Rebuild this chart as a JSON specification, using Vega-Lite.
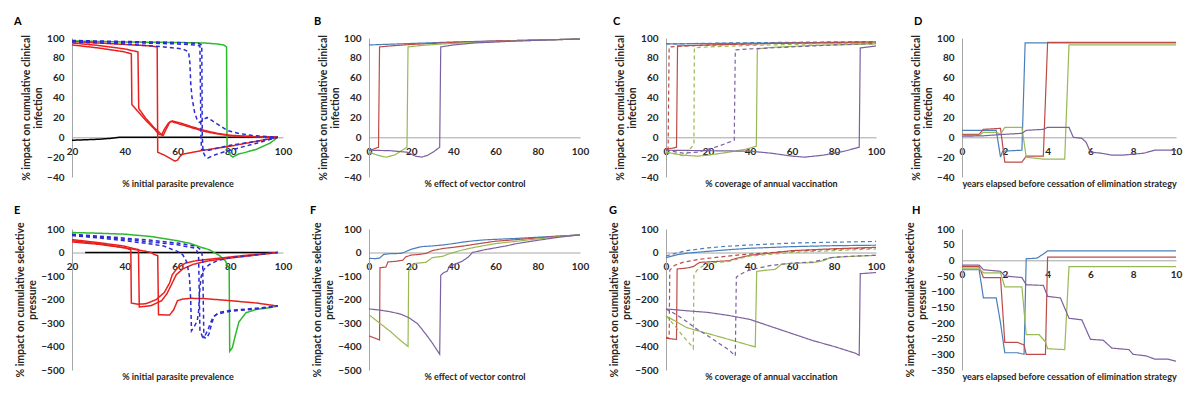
{
"$schema": "https://vega.github.io/schema/vega-lite/v6.json",
"background": "white",
"padding": {"left": 14, "top": 16, "right": 5, "bottom": 5},
"columns": 4,
"bounds": "flush",
"spacing": {"row": 52, "column": 86},
"resolve": {"scale": {"x": "independent", "y": "independent", "color": "independent", "strokeDash": "independent"}},
"config": {
  "view": {"stroke": null},
  "font": "Lato",
  "axis": {"grid": false, "ticks": false, "labelFont": "Lato", "labelFontWeight": "bold", "labelFontSize": 10, "labelColor": "#262626", "titleFont": "Lato", "titleFontWeight": "bold", "titleColor": "#262626", "domainColor": "#A6A6A6", "labelFlush": false, "labelOverlap": false},
  "axisY": {"labelPadding": 8, "titlePadding": 3, "titleLineHeight": 12, "titleFontSize": 10.5},
  "axisX": {"labelPadding": 9, "titleBaseline": "middle", "titleFontSize": 9},
  "title": {"anchor": "start", "frame": "group", "font": "Lato", "fontSize": 11, "fontWeight": "bold", "color": "#000", "offset": 6},
  "line": {"strokeWidth": 1.2}
},
"datasets": {
"A": [
{"s":"K","x":20,"y":-3},{"s":"K","x":25,"y":-2.5},{"s":"K","x":30,"y":-2},{"s":"K","x":35,"y":-1},{"s":"K","x":38,"y":0},{"s":"K","x":98,"y":0},
{"s":"G","x":20,"y":97},{"s":"G","x":40,"y":96},{"s":"G","x":60,"y":95.5},{"s":"G","x":70,"y":95},{"s":"G","x":75,"y":94},{"s":"G","x":77.5,"y":93},{"s":"G","x":78.6,"y":91},{"s":"G","x":78.8,"y":-12},{"s":"G","x":80,"y":-18},{"s":"G","x":81,"y":-20},{"s":"G","x":83,"y":-17},{"s":"G","x":86,"y":-15},{"s":"G","x":90,"y":-12},{"s":"G","x":95,"y":-6},{"s":"G","x":98,"y":0},
{"s":"R1","x":20,"y":93},{"s":"R1","x":30,"y":90},{"s":"R1","x":40,"y":86},{"s":"R1","x":42.5,"y":84},{"s":"R1","x":42.7,"y":33},{"s":"R1","x":45,"y":26},{"s":"R1","x":48,"y":17},{"s":"R1","x":51,"y":9},{"s":"R1","x":53,"y":3},{"s":"R1","x":54,"y":2.5},{"s":"R1","x":55,"y":8},{"s":"R1","x":56.5,"y":14},{"s":"R1","x":57.5,"y":16},{"s":"R1","x":60,"y":14},{"s":"R1","x":65,"y":10},{"s":"R1","x":70,"y":6},{"s":"R1","x":75,"y":3.5},{"s":"R1","x":80,"y":1.5},{"s":"R1","x":90,"y":0.5},{"s":"R1","x":98,"y":0},
{"s":"R2","x":20,"y":95},{"s":"R2","x":30,"y":92.5},{"s":"R2","x":40,"y":89},{"s":"R2","x":45,"y":86},{"s":"R2","x":45.3,"y":29},{"s":"R2","x":48,"y":19},{"s":"R2","x":51,"y":10},{"s":"R2","x":54.5,"y":1.5},{"s":"R2","x":55.5,"y":7},{"s":"R2","x":57,"y":15},{"s":"R2","x":58,"y":16.5},{"s":"R2","x":61,"y":14.5},{"s":"R2","x":65,"y":11},{"s":"R2","x":70,"y":7},{"s":"R2","x":75,"y":4},{"s":"R2","x":80,"y":2},{"s":"R2","x":90,"y":0.5},{"s":"R2","x":98,"y":0},
{"s":"R3","x":20,"y":96.5},{"s":"R3","x":30,"y":95},{"s":"R3","x":40,"y":93.5},{"s":"R3","x":50,"y":92},{"s":"R3","x":52.3,"y":91},{"s":"R3","x":52.5,"y":-15},{"s":"R3","x":55,"y":-18},{"s":"R3","x":57,"y":-21},{"s":"R3","x":59,"y":-24},{"s":"R3","x":60,"y":-23},{"s":"R3","x":61,"y":-19},{"s":"R3","x":62,"y":-17},{"s":"R3","x":65,"y":-15.5},{"s":"R3","x":70,"y":-13},{"s":"R3","x":80,"y":-9},{"s":"R3","x":90,"y":-4},{"s":"R3","x":98,"y":0},
{"s":"D1","x":20,"y":96},{"s":"D1","x":40,"y":94},{"s":"D1","x":55,"y":91},{"s":"D1","x":62,"y":89},{"s":"D1","x":64.2,"y":86},{"s":"D1","x":64.7,"y":75},{"s":"D1","x":65,"y":55},{"s":"D1","x":65.5,"y":40},{"s":"D1","x":66.5,"y":25},{"s":"D1","x":67.5,"y":17},{"s":"D1","x":68.3,"y":15},{"s":"D1","x":69,"y":16},{"s":"D1","x":70,"y":18},{"s":"D1","x":71.2,"y":20},{"s":"D1","x":73,"y":17},{"s":"D1","x":75,"y":13.5},{"s":"D1","x":78.8,"y":7},{"s":"D1","x":83,"y":4},{"s":"D1","x":88,"y":2},{"s":"D1","x":98,"y":0},
{"s":"D2","x":20,"y":97},{"s":"D2","x":40,"y":95.5},{"s":"D2","x":60,"y":94},{"s":"D2","x":67,"y":93},{"s":"D2","x":68.5,"y":92},{"s":"D2","x":68.7,"y":50},{"s":"D2","x":68.9,"y":0},{"s":"D2","x":69.1,"y":-12},{"s":"D2","x":70,"y":-13},{"s":"D2","x":72,"y":-13},{"s":"D2","x":75,"y":-11},{"s":"D2","x":80,"y":-8},{"s":"D2","x":90,"y":-4},{"s":"D2","x":98,"y":0},
{"s":"D3","x":20,"y":97.5},{"s":"D3","x":40,"y":96.5},{"s":"D3","x":60,"y":95.5},{"s":"D3","x":68,"y":94.5},{"s":"D3","x":69.2,"y":93},{"s":"D3","x":69.4,"y":0},{"s":"D3","x":69.7,"y":-15},{"s":"D3","x":70.5,"y":-19},{"s":"D3","x":71.5,"y":-21},{"s":"D3","x":73,"y":-19},{"s":"D3","x":76,"y":-16},{"s":"D3","x":80,"y":-13},{"s":"D3","x":90,"y":-6},{"s":"D3","x":98,"y":0}
],
"B": [
{"s":"b","x":0,"y":93},{"s":"b","x":20,"y":94.5},{"s":"b","x":40,"y":96},{"s":"b","x":60,"y":97},{"s":"b","x":80,"y":98},{"s":"b","x":100,"y":99},
{"s":"r","x":0,"y":-13},{"s":"r","x":2,"y":-12},{"s":"r","x":4.5,"y":-10},{"s":"r","x":5,"y":91},{"s":"r","x":10,"y":92},{"s":"r","x":20,"y":93.5},{"s":"r","x":40,"y":95.5},{"s":"r","x":60,"y":97},{"s":"r","x":80,"y":98},{"s":"r","x":100,"y":99},
{"s":"g","x":0,"y":-15},{"s":"g","x":4,"y":-18},{"s":"g","x":8,"y":-20},{"s":"g","x":12,"y":-18},{"s":"g","x":15,"y":-14},{"s":"g","x":18,"y":-10},{"s":"g","x":18.5,"y":91},{"s":"g","x":25,"y":92.5},{"s":"g","x":35,"y":94},{"s":"g","x":50,"y":95.5},{"s":"g","x":70,"y":97},{"s":"g","x":100,"y":99},
{"s":"p","x":0,"y":-13},{"s":"p","x":10,"y":-13.5},{"s":"p","x":18,"y":-15},{"s":"p","x":22,"y":-19},{"s":"p","x":25,"y":-20},{"s":"p","x":28,"y":-18},{"s":"p","x":31,"y":-14},{"s":"p","x":33.5,"y":-10},{"s":"p","x":34,"y":91},{"s":"p","x":40,"y":93},{"s":"p","x":50,"y":95},{"s":"p","x":70,"y":97},{"s":"p","x":100,"y":99}
],
"C": [
{"s":"b","x":0,"y":94},{"s":"b","x":50,"y":95},{"s":"b","x":100,"y":96},
{"s":"bd","x":0,"y":94},{"s":"bd","x":30,"y":95},{"s":"bd","x":100,"y":96.5},
{"s":"rd","x":0,"y":-12},{"s":"rd","x":1,"y":-11},{"s":"rd","x":1.5,"y":91},{"s":"rd","x":10,"y":92},{"s":"rd","x":30,"y":93.5},{"s":"rd","x":60,"y":95},{"s":"rd","x":100,"y":96},
{"s":"r","x":0,"y":-12},{"s":"r","x":3,"y":-11},{"s":"r","x":5,"y":-10},{"s":"r","x":5.5,"y":92},{"s":"r","x":20,"y":93},{"s":"r","x":50,"y":94.5},{"s":"r","x":100,"y":95.5},
{"s":"gd","x":0,"y":-15},{"s":"gd","x":5,"y":-17},{"s":"gd","x":9,"y":-19},{"s":"gd","x":11,"y":-13},{"s":"gd","x":13.3,"y":-7},{"s":"gd","x":13.5,"y":90},{"s":"gd","x":20,"y":91},{"s":"gd","x":40,"y":92.5},{"s":"gd","x":70,"y":94},{"s":"gd","x":100,"y":95},
{"s":"g","x":0,"y":-15},{"s":"g","x":8,"y":-18},{"s":"g","x":15,"y":-19},{"s":"g","x":20,"y":-18},{"s":"g","x":30,"y":-15},{"s":"g","x":38,"y":-12},{"s":"g","x":43,"y":-9},{"s":"g","x":43.5,"y":89},{"s":"g","x":50,"y":90.5},{"s":"g","x":70,"y":92.5},{"s":"g","x":100,"y":94},
{"s":"pd","x":0,"y":-13},{"s":"pd","x":8,"y":-16},{"s":"pd","x":15,"y":-15},{"s":"pd","x":25,"y":-9},{"s":"pd","x":32.5,"y":-3},{"s":"pd","x":33,"y":88},{"s":"pd","x":40,"y":89},{"s":"pd","x":60,"y":91},{"s":"pd","x":80,"y":93},{"s":"pd","x":100,"y":94.5},
{"s":"p","x":0,"y":-13},{"s":"p","x":20,"y":-13.5},{"s":"p","x":40,"y":-14},{"s":"p","x":50,"y":-16},{"s":"p","x":60,"y":-19},{"s":"p","x":66,"y":-20},{"s":"p","x":75,"y":-18},{"s":"p","x":85,"y":-14},{"s":"p","x":92,"y":-10},{"s":"p","x":92.5,"y":90},{"s":"p","x":100,"y":92}
],
"D": [
{"s":"b","x":0,"y":7},{"s":"b","x":1.6,"y":7},{"s":"b","x":1.8,"y":-20},{"s":"b","x":1.9,"y":-14},{"s":"b","x":2.8,"y":-13},{"s":"b","x":2.95,"y":95},{"s":"b","x":10,"y":95},
{"s":"r","x":0,"y":3},{"s":"r","x":0.8,"y":3},{"s":"r","x":1,"y":8},{"s":"r","x":1.8,"y":9},{"s":"r","x":2,"y":-25},{"s":"r","x":2.8,"y":-25},{"s":"r","x":3,"y":-19},{"s":"r","x":3.8,"y":-19},{"s":"r","x":4,"y":95.5},{"s":"r","x":10,"y":95.5},
{"s":"g","x":0,"y":2},{"s":"g","x":0.8,"y":2},{"s":"g","x":1,"y":5},{"s":"g","x":1.6,"y":5},{"s":"g","x":1.8,"y":3},{"s":"g","x":2,"y":10},{"s":"g","x":2.8,"y":10},{"s":"g","x":3,"y":-20},{"s":"g","x":3.8,"y":-22},{"s":"g","x":4.8,"y":-22},{"s":"g","x":5,"y":93},{"s":"g","x":10,"y":93},
{"s":"p","x":0,"y":1},{"s":"p","x":1,"y":1.5},{"s":"p","x":2,"y":3},{"s":"p","x":2.8,"y":4},{"s":"p","x":3,"y":7},{"s":"p","x":3.8,"y":8},{"s":"p","x":4,"y":10},{"s":"p","x":5,"y":10},{"s":"p","x":5.2,"y":0},{"s":"p","x":5.6,"y":-1},{"s":"p","x":5.8,"y":-5},{"s":"p","x":6,"y":-15},{"s":"p","x":6.5,"y":-16},{"s":"p","x":7,"y":-18},{"s":"p","x":7.5,"y":-18},{"s":"p","x":8,"y":-17},{"s":"p","x":8.5,"y":-16},{"s":"p","x":9,"y":-13},{"s":"p","x":10,"y":-13}
],
"E": [
{"s":"K","x":25,"y":0},{"s":"K","x":98,"y":0},
{"s":"G","x":20,"y":85},{"s":"G","x":30,"y":82},{"s":"G","x":40,"y":78},{"s":"G","x":50,"y":68},{"s":"G","x":60,"y":50},{"s":"G","x":65,"y":38},{"s":"G","x":69,"y":22},{"s":"G","x":72,"y":12},{"s":"G","x":75,"y":-7},{"s":"G","x":76,"y":-14},{"s":"G","x":78.2,"y":-36},{"s":"G","x":79,"y":-57},{"s":"G","x":79.6,"y":-75},{"s":"G","x":79.8,"y":-420},{"s":"G","x":80.8,"y":-405},{"s":"G","x":82,"y":-350},{"s":"G","x":83.3,"y":-295},{"s":"G","x":86,"y":-256},{"s":"G","x":90,"y":-242},{"s":"G","x":95,"y":-235},{"s":"G","x":98,"y":-228},
{"s":"R1","x":20,"y":50},{"s":"R1","x":30,"y":38},{"s":"R1","x":40,"y":20},{"s":"R1","x":42.3,"y":12},{"s":"R1","x":42.5,"y":-215},{"s":"R1","x":45,"y":-220},{"s":"R1","x":48,"y":-218},{"s":"R1","x":52,"y":-200},{"s":"R1","x":55,"y":-170},{"s":"R1","x":57,"y":-130},{"s":"R1","x":58,"y":-95},{"s":"R1","x":60,"y":-65},{"s":"R1","x":63,"y":-45},{"s":"R1","x":67,"y":-35},{"s":"R1","x":75,"y":-25},{"s":"R1","x":85,"y":-13},{"s":"R1","x":98,"y":0},
{"s":"R2","x":20,"y":55},{"s":"R2","x":30,"y":42},{"s":"R2","x":40,"y":27},{"s":"R2","x":45.2,"y":12},{"s":"R2","x":45.5,"y":-232},{"s":"R2","x":50,"y":-226},{"s":"R2","x":54,"y":-205},{"s":"R2","x":56,"y":-175},{"s":"R2","x":58,"y":-130},{"s":"R2","x":59.5,"y":-95},{"s":"R2","x":62,"y":-70},{"s":"R2","x":66,"y":-50},{"s":"R2","x":72,"y":-35},{"s":"R2","x":85,"y":-17},{"s":"R2","x":98,"y":0},
{"s":"R3","x":20,"y":45},{"s":"R3","x":30,"y":35},{"s":"R3","x":40,"y":20},{"s":"R3","x":48,"y":5},{"s":"R3","x":50,"y":0},{"s":"R3","x":51,"y":-8},{"s":"R3","x":52.5,"y":-13},{"s":"R3","x":52.8,"y":-265},{"s":"R3","x":57,"y":-266},{"s":"R3","x":58.5,"y":-245},{"s":"R3","x":60,"y":-205},{"s":"R3","x":62,"y":-198},{"s":"R3","x":65,"y":-195},{"s":"R3","x":70,"y":-196},{"s":"R3","x":80,"y":-205},{"s":"R3","x":90,"y":-215},{"s":"R3","x":98,"y":-228},
{"s":"D1","x":20,"y":72},{"s":"D1","x":30,"y":62},{"s":"D1","x":40,"y":50},{"s":"D1","x":50,"y":36},{"s":"D1","x":55,"y":27},{"s":"D1","x":58,"y":13},{"s":"D1","x":60,"y":5},{"s":"D1","x":62,"y":-10},{"s":"D1","x":63.5,"y":-40},{"s":"D1","x":64.5,"y":-100},{"s":"D1","x":65,"y":-200},{"s":"D1","x":65.3,"y":-333},{"s":"D1","x":66.5,"y":-312},{"s":"D1","x":67.5,"y":-290},{"s":"D1","x":68,"y":-250},{"s":"D1","x":68.5,"y":-150},{"s":"D1","x":69,"y":-100},{"s":"D1","x":70,"y":-72},{"s":"D1","x":72,"y":-52},{"s":"D1","x":75,"y":-35},{"s":"D1","x":80,"y":-22},{"s":"D1","x":90,"y":-10},{"s":"D1","x":98,"y":0},
{"s":"D2","x":20,"y":75},{"s":"D2","x":30,"y":66},{"s":"D2","x":40,"y":56},{"s":"D2","x":50,"y":45},{"s":"D2","x":60,"y":33},{"s":"D2","x":66,"y":20},{"s":"D2","x":67.5,"y":5},{"s":"D2","x":68,"y":-20},{"s":"D2","x":68.5,"y":-330},{"s":"D2","x":69.5,"y":-360},{"s":"D2","x":70.5,"y":-352},{"s":"D2","x":71.5,"y":-330},{"s":"D2","x":72.5,"y":-300},{"s":"D2","x":73.5,"y":-275},{"s":"D2","x":75,"y":-262},{"s":"D2","x":80,"y":-250},{"s":"D2","x":90,"y":-240},{"s":"D2","x":98,"y":-228},
{"s":"D3","x":20,"y":78},{"s":"D3","x":30,"y":70},{"s":"D3","x":40,"y":61},{"s":"D3","x":50,"y":52},{"s":"D3","x":60,"y":40},{"s":"D3","x":67,"y":27},{"s":"D3","x":69,"y":10},{"s":"D3","x":69.5,"y":-20},{"s":"D3","x":70,"y":-362},{"s":"D3","x":71,"y":-365},{"s":"D3","x":72,"y":-345},{"s":"D3","x":73,"y":-300},{"s":"D3","x":74,"y":-270},{"s":"D3","x":76,"y":-255},{"s":"D3","x":80,"y":-246},{"s":"D3","x":90,"y":-237},{"s":"D3","x":98,"y":-228}
],
"F": [
{"s":"b","x":0,"y":-25},{"s":"b","x":3,"y":-26},{"s":"b","x":5,"y":-24},{"s":"b","x":7,"y":-8},{"s":"b","x":10,"y":-5},{"s":"b","x":15,"y":-4},{"s":"b","x":17,"y":2},{"s":"b","x":20,"y":14},{"s":"b","x":25,"y":25},{"s":"b","x":30,"y":28},{"s":"b","x":35,"y":32},{"s":"b","x":40,"y":38},{"s":"b","x":45,"y":45},{"s":"b","x":50,"y":50},{"s":"b","x":55,"y":54},{"s":"b","x":60,"y":56},{"s":"b","x":70,"y":60},{"s":"b","x":80,"y":65},{"s":"b","x":90,"y":70},{"s":"b","x":100,"y":75},
{"s":"r","x":0,"y":-355},{"s":"r","x":5,"y":-372},{"s":"r","x":5.2,"y":-65},{"s":"r","x":8,"y":-62},{"s":"r","x":9,"y":-40},{"s":"r","x":13,"y":-37},{"s":"r","x":16,"y":-33},{"s":"r","x":17.5,"y":-18},{"s":"r","x":20,"y":-11},{"s":"r","x":24,"y":-8},{"s":"r","x":27,"y":-4},{"s":"r","x":30,"y":8},{"s":"r","x":35,"y":17},{"s":"r","x":40,"y":22},{"s":"r","x":45,"y":28},{"s":"r","x":50,"y":35},{"s":"r","x":60,"y":48},{"s":"r","x":70,"y":55},{"s":"r","x":80,"y":62},{"s":"r","x":90,"y":69},{"s":"r","x":100,"y":75},
{"s":"g","x":0,"y":-265},{"s":"g","x":5,"y":-300},{"s":"g","x":10,"y":-335},{"s":"g","x":15,"y":-375},{"s":"g","x":18.5,"y":-400},{"s":"g","x":18.8,"y":-80},{"s":"g","x":20,"y":-62},{"s":"g","x":22,"y":-46},{"s":"g","x":27,"y":-42},{"s":"g","x":30,"y":-22},{"s":"g","x":35,"y":-16},{"s":"g","x":38,"y":-5},{"s":"g","x":42,"y":5},{"s":"g","x":45,"y":12},{"s":"g","x":50,"y":22},{"s":"g","x":55,"y":30},{"s":"g","x":60,"y":38},{"s":"g","x":70,"y":48},{"s":"g","x":80,"y":58},{"s":"g","x":90,"y":67},{"s":"g","x":100,"y":75},
{"s":"p","x":0,"y":-240},{"s":"p","x":5,"y":-245},{"s":"p","x":10,"y":-252},{"s":"p","x":15,"y":-262},{"s":"p","x":19,"y":-278},{"s":"p","x":23,"y":-303},{"s":"p","x":27,"y":-348},{"s":"p","x":30,"y":-385},{"s":"p","x":33.5,"y":-433},{"s":"p","x":34,"y":-97},{"s":"p","x":35.5,"y":-85},{"s":"p","x":37,"y":-80},{"s":"p","x":38,"y":-62},{"s":"p","x":40,"y":-52},{"s":"p","x":44,"y":-38},{"s":"p","x":47,"y":-20},{"s":"p","x":49,"y":0},{"s":"p","x":55,"y":12},{"s":"p","x":60,"y":20},{"s":"p","x":65,"y":28},{"s":"p","x":70,"y":38},{"s":"p","x":80,"y":52},{"s":"p","x":90,"y":65},{"s":"p","x":100,"y":75}
],
"G": [
{"s":"b","x":0,"y":-22},{"s":"b","x":5,"y":-10},{"s":"b","x":10,"y":-3},{"s":"b","x":20,"y":5},{"s":"b","x":30,"y":12},{"s":"b","x":40,"y":18},{"s":"b","x":60,"y":25},{"s":"b","x":80,"y":29},{"s":"b","x":100,"y":31},
{"s":"bd","x":0,"y":-15},{"s":"bd","x":5,"y":-2},{"s":"bd","x":10,"y":8},{"s":"bd","x":20,"y":20},{"s":"bd","x":30,"y":27},{"s":"bd","x":40,"y":32},{"s":"bd","x":60,"y":40},{"s":"bd","x":80,"y":44},{"s":"bd","x":100,"y":47},
{"s":"rd","x":0,"y":-360},{"s":"rd","x":1.5,"y":-365},{"s":"rd","x":1.8,"y":-75},{"s":"rd","x":4,"y":-55},{"s":"rd","x":8,"y":-42},{"s":"rd","x":15,"y":-30},{"s":"rd","x":25,"y":-20},{"s":"rd","x":35,"y":-10},{"s":"rd","x":50,"y":0},{"s":"rd","x":70,"y":10},{"s":"rd","x":100,"y":20},
{"s":"r","x":0,"y":-365},{"s":"r","x":5,"y":-370},{"s":"r","x":5.3,"y":-70},{"s":"r","x":10,"y":-66},{"s":"r","x":13,"y":-60},{"s":"r","x":16,"y":-42},{"s":"r","x":30,"y":-35},{"s":"r","x":33,"y":-26},{"s":"r","x":40,"y":-12},{"s":"r","x":50,"y":-2},{"s":"r","x":60,"y":8},{"s":"r","x":80,"y":16},{"s":"r","x":100,"y":22},
{"s":"gd","x":0,"y":-270},{"s":"gd","x":4,"y":-310},{"s":"gd","x":8,"y":-355},{"s":"gd","x":12.5,"y":-400},{"s":"gd","x":13,"y":-408},{"s":"gd","x":13.3,"y":-95},{"s":"gd","x":15,"y":-72},{"s":"gd","x":18,"y":-55},{"s":"gd","x":20,"y":-45},{"s":"gd","x":30,"y":-38},{"s":"gd","x":34,"y":-28},{"s":"gd","x":40,"y":-15},{"s":"gd","x":60,"y":0},{"s":"gd","x":80,"y":8},{"s":"gd","x":100,"y":15},
{"s":"g","x":0,"y":-270},{"s":"g","x":10,"y":-320},{"s":"g","x":20,"y":-345},{"s":"g","x":30,"y":-370},{"s":"g","x":42.5,"y":-402},{"s":"g","x":43.2,"y":-80},{"s":"g","x":48,"y":-75},{"s":"g","x":52,"y":-72},{"s":"g","x":55,"y":-50},{"s":"g","x":60,"y":-46},{"s":"g","x":70,"y":-43},{"s":"g","x":75,"y":-35},{"s":"g","x":78,"y":-22},{"s":"g","x":85,"y":-18},{"s":"g","x":100,"y":-12},
{"s":"pd","x":0,"y":-240},{"s":"pd","x":5,"y":-265},{"s":"pd","x":10,"y":-295},{"s":"pd","x":15,"y":-328},{"s":"pd","x":20,"y":-355},{"s":"pd","x":25,"y":-385},{"s":"pd","x":30,"y":-415},{"s":"pd","x":33,"y":-440},{"s":"pd","x":33.5,"y":-105},{"s":"pd","x":36,"y":-90},{"s":"pd","x":38,"y":-80},{"s":"pd","x":42,"y":-70},{"s":"pd","x":50,"y":-55},{"s":"pd","x":60,"y":-45},{"s":"pd","x":70,"y":-40},{"s":"pd","x":75,"y":-30},{"s":"pd","x":80,"y":-20},{"s":"pd","x":90,"y":-15},{"s":"pd","x":100,"y":-12},
{"s":"p","x":0,"y":-240},{"s":"p","x":10,"y":-248},{"s":"p","x":20,"y":-255},{"s":"p","x":30,"y":-268},{"s":"p","x":40,"y":-285},{"s":"p","x":50,"y":-315},{"s":"p","x":60,"y":-345},{"s":"p","x":70,"y":-375},{"s":"p","x":80,"y":-400},{"s":"p","x":90,"y":-428},{"s":"p","x":92,"y":-437},{"s":"p","x":92.5,"y":-90},{"s":"p","x":96,"y":-88},{"s":"p","x":100,"y":-85}
],
"H": [
{"s":"b","x":0,"y":-30},{"s":"b","x":0.8,"y":-30},{"s":"b","x":1,"y":-120},{"s":"b","x":1.6,"y":-120},{"s":"b","x":1.8,"y":-200},{"s":"b","x":2,"y":-295},{"s":"b","x":2.6,"y":-295},{"s":"b","x":2.9,"y":-300},{"s":"b","x":3,"y":5},{"s":"b","x":3.5,"y":7},{"s":"b","x":3.8,"y":20},{"s":"b","x":4,"y":30},{"s":"b","x":10,"y":30},
{"s":"r","x":0,"y":-20},{"s":"r","x":0.8,"y":-20},{"s":"r","x":1,"y":-55},{"s":"r","x":1.8,"y":-55},{"s":"r","x":2,"y":-262},{"s":"r","x":2.6,"y":-262},{"s":"r","x":2.9,"y":-270},{"s":"r","x":3,"y":-300},{"s":"r","x":3.9,"y":-300},{"s":"r","x":4,"y":10},{"s":"r","x":10,"y":10},
{"s":"g","x":0,"y":-25},{"s":"g","x":0.8,"y":-25},{"s":"g","x":1,"y":-40},{"s":"g","x":1.8,"y":-40},{"s":"g","x":2,"y":-85},{"s":"g","x":2.8,"y":-85},{"s":"g","x":3,"y":-237},{"s":"g","x":3.6,"y":-237},{"s":"g","x":3.9,"y":-260},{"s":"g","x":4,"y":-282},{"s":"g","x":4.8,"y":-285},{"s":"g","x":5,"y":-20},{"s":"g","x":10,"y":-20},
{"s":"p","x":0,"y":-15},{"s":"p","x":0.8,"y":-15},{"s":"p","x":1,"y":-30},{"s":"p","x":1.8,"y":-35},{"s":"p","x":2,"y":-50},{"s":"p","x":2.8,"y":-55},{"s":"p","x":3,"y":-78},{"s":"p","x":3.8,"y":-80},{"s":"p","x":4,"y":-115},{"s":"p","x":4.6,"y":-120},{"s":"p","x":5,"y":-185},{"s":"p","x":5.6,"y":-190},{"s":"p","x":6,"y":-252},{"s":"p","x":6.6,"y":-255},{"s":"p","x":7,"y":-280},{"s":"p","x":7.8,"y":-285},{"s":"p","x":8,"y":-300},{"s":"p","x":8.6,"y":-305},{"s":"p","x":9,"y":-315},{"s":"p","x":9.6,"y":-315},{"s":"p","x":10,"y":-322}
]
},
"concat": [
{"title": {"text": "A", "dx": -58}, "data": {"name": "A"}, "width": 211, "height": 139,
 "mark": {"type": "line", "strokeWidth": 1.5},
 "encoding": {
  "x": {"field": "x", "type": "quantitative", "scale": {"domain": [20, 100], "nice": false, "zero": false}, "axis": {"title": "% initial parasite prevalence", "values": [20,40,60,80,100], "offset": -39.7, "titleY": 46}},
  "y": {"field": "y", "type": "quantitative", "scale": {"domain": [-40, 100], "nice": false}, "axis": {"title": ["% impact on cumulative clinical", "infection"], "values": [-40,-20,0,20,40,60,80,100]}},
  "color": {"field": "s", "type": "nominal", "legend": null, "scale": {"domain": ["K","G","R1","R2","R3","D1","D2","D3"], "range": ["#000000","#2DB82D","#E8211E","#E8211E","#E8211E","#2B2BD0","#2B2BD0","#2B2BD0"]}},
  "strokeDash": {"field": "s", "type": "nominal", "legend": null, "scale": {"domain": ["K","G","R1","R2","R3","D1","D2","D3"], "range": [[1,0],[1,0],[1,0],[1,0],[1,0],[4,3],[4,3],[4,3]]}},
  "order": {"value": null}
 }},
{"title": {"text": "B", "dx": -55}, "data": {"name": "B"}, "width": 211, "height": 139,
 "mark": {"type": "line"},
 "encoding": {
  "x": {"field": "x", "type": "quantitative", "scale": {"domain": [0, 100], "nice": false}, "axis": {"title": "% effect of vector control", "values": [0,20,40,60,80,100], "offset": -39.7, "titleY": 46}},
  "y": {"field": "y", "type": "quantitative", "scale": {"domain": [-40, 100], "nice": false}, "axis": {"title": ["% impact on cumulative clinical", "infection"], "values": [-40,-20,0,20,40,60,80,100]}},
  "color": {"field": "s", "type": "nominal", "legend": null, "scale": {"domain": ["b","r","g","p","bd","rd","gd","pd"], "range": ["#4A7EBB","#BE4B48","#98B954","#7D60A0","#4A7EBB","#BE4B48","#98B954","#7D60A0"]}},
  "strokeDash": {"field": "s", "type": "nominal", "legend": null, "scale": {"domain": ["b","r","g","p","bd","rd","gd","pd"], "range": [[1,0],[1,0],[1,0],[1,0],[4,3],[4,3],[4,3],[4,3]]}},
  "order": {"value": null}
 }},
{"title": {"text": "C", "dx": -53}, "data": {"name": "C"}, "width": 210, "height": 139,
 "mark": {"type": "line"},
 "encoding": {
  "x": {"field": "x", "type": "quantitative", "scale": {"domain": [0, 100], "nice": false}, "axis": {"title": "% coverage of annual vaccination", "values": [0,20,40,60,80,100], "offset": -39.7, "titleY": 46}},
  "y": {"field": "y", "type": "quantitative", "scale": {"domain": [-40, 100], "nice": false}, "axis": {"title": ["% impact on cumulative clinical", "infection"], "values": [-40,-20,0,20,40,60,80,100]}},
  "color": {"field": "s", "type": "nominal", "legend": null, "scale": {"domain": ["b","r","g","p","bd","rd","gd","pd"], "range": ["#4A7EBB","#BE4B48","#98B954","#7D60A0","#4A7EBB","#BE4B48","#98B954","#7D60A0"]}},
  "strokeDash": {"field": "s", "type": "nominal", "legend": null, "scale": {"domain": ["b","r","g","p","bd","rd","gd","pd"], "range": [[1,0],[1,0],[1,0],[1,0],[4,3],[4,3],[4,3],[4,3]]}},
  "order": {"value": null}
 }},
{"title": {"text": "D", "dx": -48}, "data": {"name": "D"}, "width": 214, "height": 139,
 "mark": {"type": "line"},
 "encoding": {
  "x": {"field": "x", "type": "quantitative", "scale": {"domain": [0, 10], "nice": false}, "axis": {"title": "years elapsed before cessation of elimination strategy", "values": [0,2,4,6,8,10], "offset": -39.7, "titleY": 46}},
  "y": {"field": "y", "type": "quantitative", "scale": {"domain": [-40, 100], "nice": false}, "axis": {"title": ["% impact on cumulative clinical", "infection"], "values": [-40,-20,0,20,40,60,80,100]}},
  "color": {"field": "s", "type": "nominal", "legend": null, "scale": {"domain": ["b","r","g","p","bd","rd","gd","pd"], "range": ["#4A7EBB","#BE4B48","#98B954","#7D60A0","#4A7EBB","#BE4B48","#98B954","#7D60A0"]}},
  "strokeDash": {"field": "s", "type": "nominal", "legend": null, "scale": {"domain": ["b","r","g","p","bd","rd","gd","pd"], "range": [[1,0],[1,0],[1,0],[1,0],[4,3],[4,3],[4,3],[4,3]]}},
  "order": {"value": null}
 }},
{"title": {"text": "E", "dx": -58}, "data": {"name": "E"}, "width": 211, "height": 141,
 "mark": {"type": "line", "strokeWidth": 1.5},
 "encoding": {
  "x": {"field": "x", "type": "quantitative", "scale": {"domain": [20, 100], "nice": false, "zero": false}, "axis": {"title": "% initial parasite prevalence", "values": [20,40,60,80,100], "offset": -117.5, "titleY": 124}},
  "y": {"field": "y", "type": "quantitative", "scale": {"domain": [-500, 100], "nice": false}, "axis": {"title": ["% impact on cumulative selective", "pressure"], "values": [-500,-400,-300,-200,-100,0,100]}},
  "color": {"field": "s", "type": "nominal", "legend": null, "scale": {"domain": ["K","G","R1","R2","R3","D1","D2","D3"], "range": ["#000000","#2DB82D","#E8211E","#E8211E","#E8211E","#2B2BD0","#2B2BD0","#2B2BD0"]}},
  "strokeDash": {"field": "s", "type": "nominal", "legend": null, "scale": {"domain": ["K","G","R1","R2","R3","D1","D2","D3"], "range": [[1,0],[1,0],[1,0],[1,0],[1,0],[4,3],[4,3],[4,3]]}},
  "order": {"value": null}
 }},
{"title": {"text": "F", "dx": -59}, "data": {"name": "F"}, "width": 211, "height": 141,
 "mark": {"type": "line"},
 "encoding": {
  "x": {"field": "x", "type": "quantitative", "scale": {"domain": [0, 100], "nice": false}, "axis": {"title": "% effect of vector control", "values": [0,20,40,60,80,100], "offset": -117.5, "titleY": 124}},
  "y": {"field": "y", "type": "quantitative", "scale": {"domain": [-500, 100], "nice": false}, "axis": {"title": ["% impact on cumulative selective", "pressure"], "values": [-500,-400,-300,-200,-100,0,100]}},
  "color": {"field": "s", "type": "nominal", "legend": null, "scale": {"domain": ["b","r","g","p","bd","rd","gd","pd"], "range": ["#4A7EBB","#BE4B48","#98B954","#7D60A0","#4A7EBB","#BE4B48","#98B954","#7D60A0"]}},
  "strokeDash": {"field": "s", "type": "nominal", "legend": null, "scale": {"domain": ["b","r","g","p","bd","rd","gd","pd"], "range": [[1,0],[1,0],[1,0],[1,0],[4,3],[4,3],[4,3],[4,3]]}},
  "order": {"value": null}
 }},
{"title": {"text": "G", "dx": -57}, "data": {"name": "G"}, "width": 210, "height": 141,
 "mark": {"type": "line"},
 "encoding": {
  "x": {"field": "x", "type": "quantitative", "scale": {"domain": [0, 100], "nice": false}, "axis": {"title": "% coverage of annual vaccination", "values": [0,20,40,60,80,100], "offset": -117.5, "titleY": 124}},
  "y": {"field": "y", "type": "quantitative", "scale": {"domain": [-500, 100], "nice": false}, "axis": {"title": ["% impact on cumulative selective", "pressure"], "values": [-500,-400,-300,-200,-100,0,100]}},
  "color": {"field": "s", "type": "nominal", "legend": null, "scale": {"domain": ["b","r","g","p","bd","rd","gd","pd"], "range": ["#4A7EBB","#BE4B48","#98B954","#7D60A0","#4A7EBB","#BE4B48","#98B954","#7D60A0"]}},
  "strokeDash": {"field": "s", "type": "nominal", "legend": null, "scale": {"domain": ["b","r","g","p","bd","rd","gd","pd"], "range": [[1,0],[1,0],[1,0],[1,0],[4,3],[4,3],[4,3],[4,3]]}},
  "order": {"value": null}
 }},
{"title": {"text": "H", "dx": -50}, "data": {"name": "H"}, "width": 214, "height": 141,
 "mark": {"type": "line"},
 "encoding": {
  "x": {"field": "x", "type": "quantitative", "scale": {"domain": [0, 10], "nice": false}, "axis": {"title": "years elapsed before cessation of elimination strategy", "values": [0,2,4,6,8,10], "offset": -109.7, "titleY": 116.4}},
  "y": {"field": "y", "type": "quantitative", "scale": {"domain": [-350, 100], "nice": false}, "axis": {"title": ["% impact on cumulative selective", "pressure"], "values": [-350,-300,-250,-200,-150,-100,-50,0,50,100]}},
  "color": {"field": "s", "type": "nominal", "legend": null, "scale": {"domain": ["b","r","g","p","bd","rd","gd","pd"], "range": ["#4A7EBB","#BE4B48","#98B954","#7D60A0","#4A7EBB","#BE4B48","#98B954","#7D60A0"]}},
  "strokeDash": {"field": "s", "type": "nominal", "legend": null, "scale": {"domain": ["b","r","g","p","bd","rd","gd","pd"], "range": [[1,0],[1,0],[1,0],[1,0],[4,3],[4,3],[4,3],[4,3]]}},
  "order": {"value": null}
 }}
]
}
